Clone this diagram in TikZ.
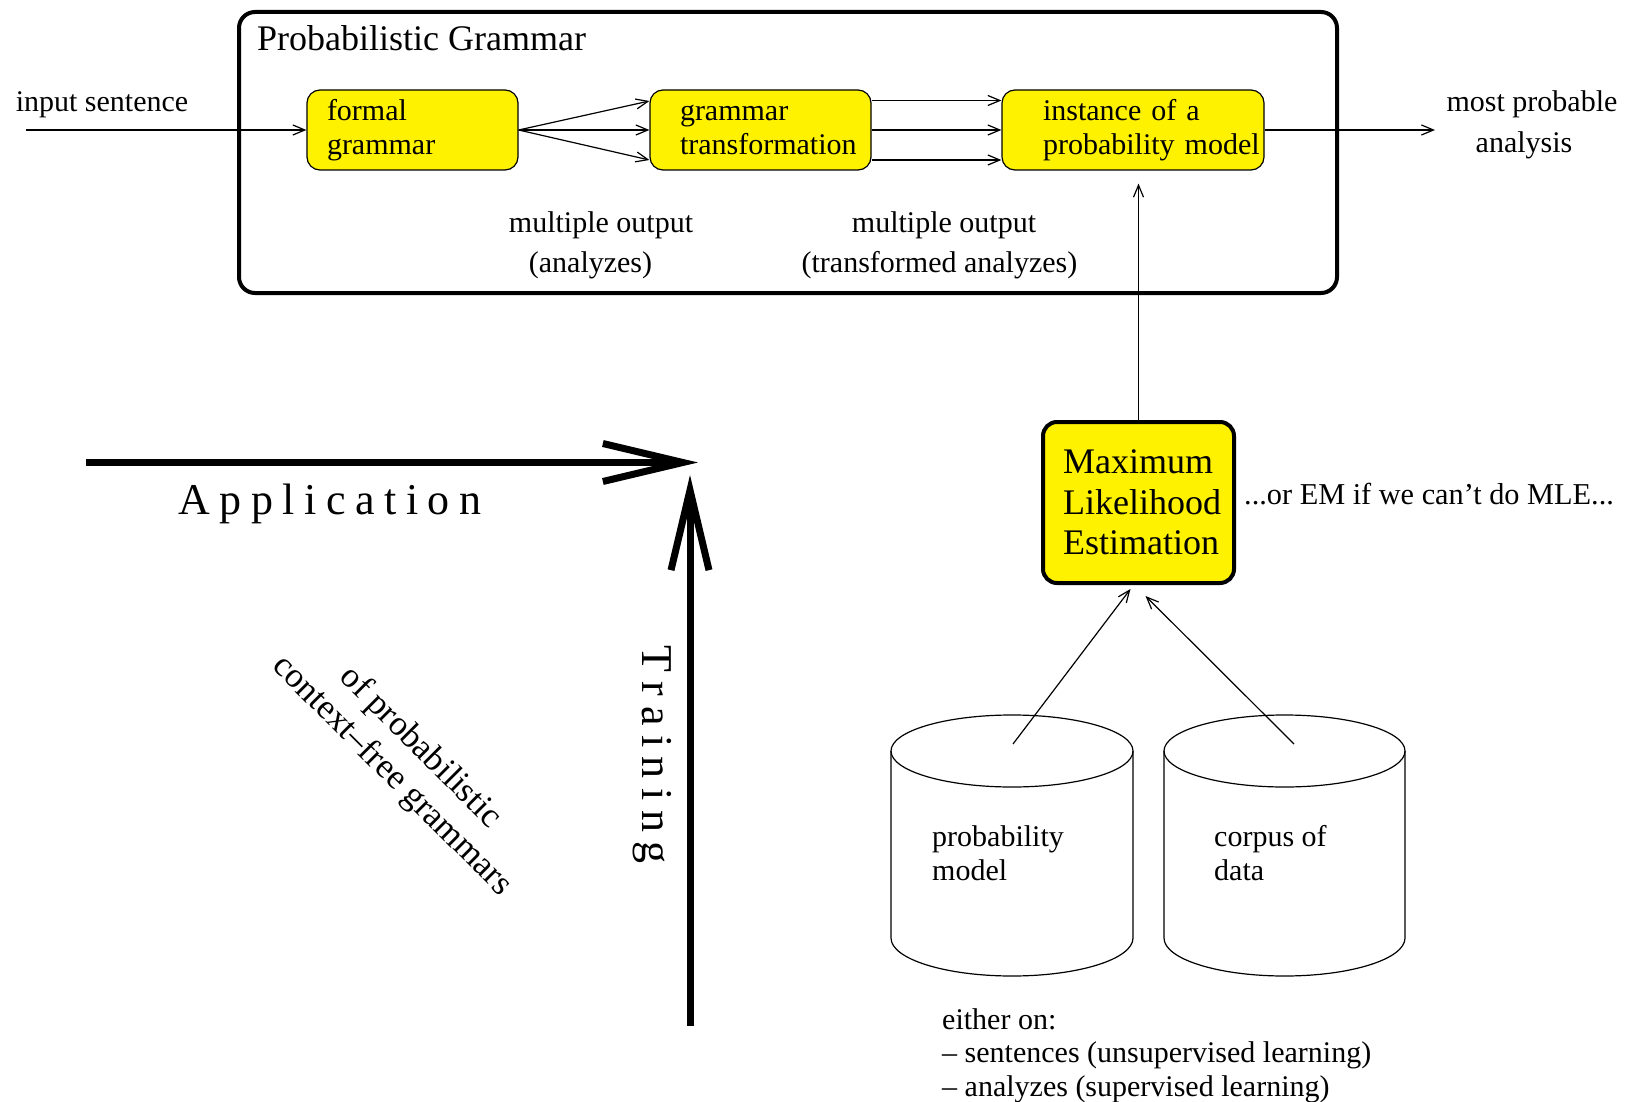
\documentclass[tikz,border=0pt]{standalone}
\usepackage{fontspec}
\setmainfont{Liberation Serif}
\usetikzlibrary{arrows.meta,calc}
\newcommand\mylsp{\kern9.5pt}
\begin{document}
\begin{tikzpicture}[x=1pt,y=-1pt,
  font=\fontsize{30}{36}\selectfont,
  ybox/.style={draw, line width=1.2pt, fill=yellow, rounded corners=13pt, minimum height=80pt, inner ysep=0pt, align=left, font=\fontsize{30}{34}\selectfont},
  thinarr/.style={line width=1.2pt, -{Straight Barb[length=12pt,width=10pt]}},
  bigarr/.style={line width=7pt, -{Straight Barb[length=80pt,width=38pt]}},
  lbl/.style={inner sep=0pt, align=center, font=\fontsize{30}{40.5}\selectfont},
  cyl/.style={line width=1.2pt}]
\useasboundingbox (0,0) rectangle (1625,1102);
% container
\node[draw, line width=4pt, rounded corners=16pt, minimum width=1098pt, minimum height=281pt, inner sep=0pt, anchor=north west] (pg) at (237,10) {};
\node[inner sep=0pt, anchor=west, font=\fontsize{36}{40}\selectfont] (pgt) at (257,38) {Probabilistic Grammar};
% boxes
\node[ybox, minimum width=211pt, text width=171pt, inner xsep=20pt] (fg) at (412.5,130) {formal\\grammar};
\node[ybox, minimum width=221pt, text width=161pt, inner xsep=30pt] (gt) at (760.5,130) {grammar\\\mbox{transformation}};
\node[ybox, minimum width=262pt, text width=180pt, inner xsep=41pt] (ib) at (1133,130) {\mbox{instance of a}\\\mbox{probability model}};
% labels
\node[lbl] (ins) at (102,104.5) {input sentence};
\node[lbl] (mpa) at (1532,125) {most probable\\analysis\kern16pt};
\node[lbl] (mo1) at (601,245.5) {multiple output\\(analyzes)\kern21pt};
\node[lbl] (mo2) at (944,245.5) {multiple output\\(transformed analyzes)\kern9pt};
% arrows top
\coordinate (inS) at (26,130);
\coordinate (outE) at (1435,130);
\draw[thinarr] (inS) -- (fg.west);
\draw[thinarr] (fg.east) -- ($(gt.west)+(0,-29)$);
\draw[thinarr] (fg.east) -- (gt.west);
\draw[thinarr] (fg.east) -- ($(gt.west)+(0,30)$);
\draw[thinarr] ($(gt.east)+(0,-29.5)$) -- ($(ib.west)+(0,-29.5)$);
\draw[thinarr] (gt.east) -- (ib.west);
\draw[thinarr] ($(gt.east)+(0,30)$) -- ($(ib.west)+(0,30)$);
\draw[thinarr] (ib.east) -- (outE);
% MLE
\node[draw, line width=4pt, fill=yellow, rounded corners=14pt, minimum width=191pt, minimum height=161pt, text width=151pt, inner xsep=20pt, inner ysep=0pt, align=left, font=\fontsize{36}{40.5}\selectfont] (mle) at (1138.5,502.5) {Maximum\\\mbox{Likelihood}\\\mbox{Estimation}};
\draw[thinarr] (mle.north) -- ($(mle.north |- ib.south)+(0,13)$);
\node[inner sep=0pt, anchor=west, font=\fontsize{30.3}{36}\selectfont] (em) at (1244,494) {...or EM if we can’t do MLE...};
% cylinders
\draw[cyl] (1012,751) ellipse [x radius=121pt, y radius=36pt];
\draw[cyl] (891,751) -- (891,938) arc[start angle=180, end angle=360, x radius=121pt, y radius=38pt] -- (1133,751);
\draw[cyl] (1284.5,751) ellipse [x radius=120.5pt, y radius=36pt];
\draw[cyl] (1164,751) -- (1164,938) arc[start angle=180, end angle=360, x radius=120.5pt, y radius=38pt] -- (1405,751);
\node[inner sep=0pt, anchor=west, align=left, font=\fontsize{30}{34}\selectfont] (pm) at (932,853) {probability\\model};
\node[inner sep=0pt, anchor=west, align=left, font=\fontsize{30}{34}\selectfont] (cd) at (1214,853) {corpus of\\data};
\coordinate (pmS) at (1013,744);
\coordinate (cdS) at (1294,744);
\draw[thinarr] (pmS) -- ($(mle.south)+(-8,4)$);
\draw[thinarr] (cdS) -- ($(mle.south)+(7,11)$);
\node[inner sep=0pt, anchor=west, align=left, font=\fontsize{30}{33.5}\selectfont] (eo) at (942,1055.5) {either on:\\– sentences (unsupervised learning)\\– analyzes (supervised learning)};
% application / training
\coordinate (appS) at (86,462.5);
\coordinate (appE) at (698,462.5);
\coordinate (trS) at (690,1026);
\coordinate (trE) at (690,475);
\draw[bigarr] (appS) -- (appE);
\draw[bigarr] (trS) -- (trE);
\node[inner sep=0pt, font=\fontsize{44}{50}\selectfont] (app) at (330,504) {A\mylsp p\mylsp p\mylsp l\mylsp i\mylsp c\mylsp a\mylsp t\mylsp i\mylsp o\mylsp n};
\node[inner sep=0pt, rotate=-90, font=\fontsize{44}{50}\selectfont] (tr) at (652,754.5) {T\mylsp r\mylsp a\mylsp i\mylsp n\mylsp i\mylsp n\mylsp g};
\node[inner sep=0pt, rotate=-45, align=center, font=\fontsize{35}{40}\selectfont] (cfg) at (406,762) {of probabilistic\\context–free grammars};
\end{tikzpicture}
\end{document}
